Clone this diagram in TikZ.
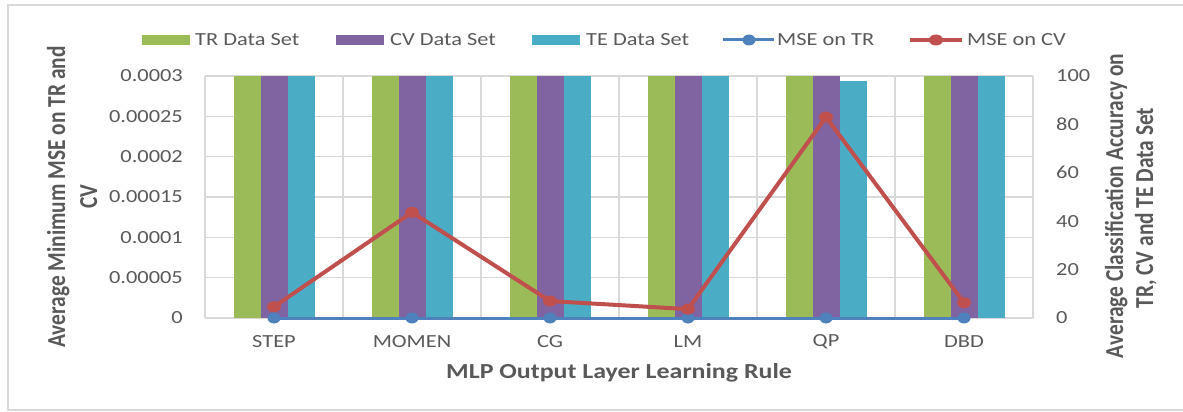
\documentclass[tikz,border=0pt]{standalone}
\usepackage{fontspec}
\setmainfont{Carlito}
\usepackage{graphicx}
\usetikzlibrary{shapes.geometric}
\definecolor{trgreen}{HTML}{9BBB59}
\definecolor{cvpurple}{HTML}{8064A2}
\definecolor{tecyan}{HTML}{4BACC6}
\definecolor{mseblue}{HTML}{4F81BD}
\definecolor{msered}{HTML}{C0504D}
\definecolor{gridgray}{HTML}{D9D9D9}
\definecolor{framegray}{HTML}{D9D9D9}
\definecolor{labelgray}{HTML}{595959}
% horizontally widened text, and its counterpart for rotated titles
\newcommand\wide[1]{\scalebox{1.21}[1]{#1}}
\newcommand\tall[1]{\scalebox{1}[1.21]{#1}}
\begin{document}
\begin{tikzpicture}[x=1pt,y=-1pt,
  tick/.style={font=\fontsize{18.5}{22}\selectfont, text=labelgray, inner sep=0pt},
  axtitle/.style={font=\bfseries\fontsize{21.4}{26}\selectfont, text=labelgray, inner sep=0pt},
  grid line/.style={draw=gridgray, line width=1.3pt},
  swatch/.style={minimum width=48pt, minimum height=10pt, inner sep=0pt, draw=none},
  bluemark/.style={ellipse, fill=mseblue, minimum width=13pt, minimum height=11pt, inner sep=0pt},
  redmark/.style={ellipse, fill=msered, minimum width=14pt, minimum height=11pt, inner sep=0pt},
  blueline/.style={draw=mseblue, line width=3pt},
  redline/.style={draw=msered, line width=4pt},
]
\useasboundingbox (0,0) rectangle (1183,412);

% outer frame
\draw[framegray, line width=1.5pt] (1185,5) -- (8,5) -- (8,410) -- (1185,410);

% grid
\foreach \k in {0,...,6} {
  \draw[grid line] (205,{76+40.333*\k}) -- (1033,{76+40.333*\k});
  \draw[grid line] ({205+138*\k},76) -- ({205+138*\k},318);
}

% accuracy bars (TR, CV, TE) per learning rule
\foreach \c/\te in {274/100,412/100,550/100,688/100,826/98,964/100} {
  \fill[trgreen]  (\c-40.5,318) rectangle (\c-13.5,76);
  \fill[cvpurple] (\c-13.5,318) rectangle (\c+13.5,76);
  \fill[tecyan]   (\c+13.5,318) rectangle (\c+40.5,{318-2.42*\te});
}

% MSE series, values in units of 1e-5
\foreach \i/\c in {1/274,2/412,3/550,4/688,5/826,6/964}
  \coordinate (bc\i) at (\c,318);
\foreach \i/\c/\v in {1/274/1.4,2/412/13.1,3/550/2.1,4/688/1.1,5/826/24.9,6/964/1.9}
  \coordinate (rc\i) at (\c,{318-8.0667*\v});

\draw[blueline] (bc1) -- (bc2) -- (bc3) -- (bc4) -- (bc5) -- (bc6);
\foreach \i in {1,...,6} \node[bluemark] (b\i) at (bc\i) {};
\draw[redline] (rc1) -- (rc2) -- (rc3) -- (rc4) -- (rc5) -- (rc6);
\foreach \i in {1,...,6} \node[redmark] (r\i) at (rc\i) {};

% left axis labels
\foreach \k/\lab in {0/0,1/0.00005,2/0.0001,3/0.00015,4/0.0002,5/0.00025,6/0.0003}
  \node[tick, anchor=east] (ly\k) at (183,{318-40.333*\k}) {\wide{\lab}};
% right axis labels
\foreach \k/\lab in {0/0,1/20,2/40,3/60,4/80,5/100}
  \node[tick, anchor=west] (ry\k) at (1056,{318-48.4*\k}) {\wide{\lab}};

% category labels
\foreach \i/\c/\lab in {1/274/STEP,2/412/MOMEN,3/550/CG,4/688/LM,5/826/QP,6/964/DBD}
  \node[tick] (xl\i) at (\c,342) {\wide{\lab}};

% axis titles
\node[axtitle] (xtitle) at (619,373) {\wide{MLP Output Layer Learning Rule}};
\node[axtitle, rotate=90, anchor=base] (ltitleA) at (65,197) {\tall{Average Minimum MSE on TR and}};
\node[axtitle, rotate=90, anchor=base] (ltitleB) at (97,197) {\tall{CV}};
\node[axtitle, rotate=90, anchor=base] (rtitleA) at (1123,206) {\tall{Average Classification Accuracy on}};
\node[axtitle, rotate=90, anchor=base] (rtitleB) at (1153,208) {\tall{TR, CV and TE Data Set}};

% legend
\node[swatch, fill=trgreen]  (lg1) at (166,40) {};
\node[tick, anchor=west] (lt1) at (195,40) {\wide{TR Data Set}};
\node[swatch, fill=cvpurple] (lg2) at (360,40) {};
\node[tick, anchor=west] (lt2) at (390,40) {\wide{CV Data Set}};
\node[swatch, fill=tecyan]   (lg3) at (556,40) {};
\node[tick, anchor=west] (lt3) at (586,40) {\wide{TE Data Set}};
\coordinate (lb0) at (723,40); \coordinate (lb1) at (774,40);
\draw[blueline] (lb0) -- (lb1);
\node[bluemark] (lg4) at (749,40) {};
\node[tick, anchor=west] (lt4) at (777,40) {\wide{MSE on TR}};
\coordinate (lr0) at (910,40); \coordinate (lr1) at (962,40);
\draw[redline] (lr0) -- (lr1);
\node[redmark] (lg5) at (936,40) {};
\node[tick, anchor=west] (lt5) at (967,40) {\wide{MSE on CV}};
\end{tikzpicture}
\end{document}
